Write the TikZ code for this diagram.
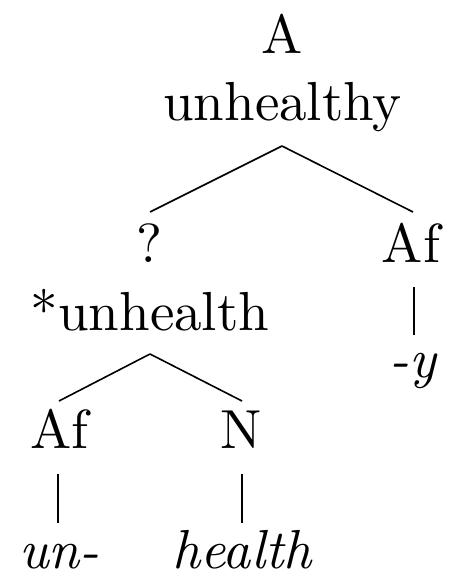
\documentclass[tikz,border=0pt]{standalone}
\newcommand\bigtxt[1]{\scalebox{5.5}{\fontsize{10}{12}\selectfont #1}}
\begin{document}
\begin{tikzpicture}[x=1pt,y=-1pt,
  lbl/.style={anchor=base,inner sep=0pt},
  edge/.style={line width=1.6pt}]
\useasboundingbox (0,0) rectangle (450,578);
\node[lbl] (A) at (282,53) {\bigtxt{A}};
\node[lbl] (unhealthy) at (282.5,120) {\bigtxt{unhealthy}};
\node[lbl] (q) at (149,262) {\bigtxt{?}};
\node[lbl] (afr) at (411,262) {\bigtxt{Af}};
\node[lbl] (unhealth) at (150,330) {\bigtxt{*unhealth}};
\node[lbl] (y) at (414,377) {\bigtxt{\textit{-y}}};
\node[lbl] (afl) at (59.5,448) {\bigtxt{Af}};
\node[lbl] (N) at (241,448) {\bigtxt{N}};
\node[lbl] (un) at (59.5,568) {\bigtxt{\textit{un-}}};
\node[lbl] (health) at (242.5,568) {\bigtxt{\textit{health}}};
\draw[edge] ([xshift=-0.5pt,yshift=-26pt]unhealthy.base) -- ([xshift=1pt,yshift=50pt]q.base);
\draw[edge] ([xshift=-0.5pt,yshift=-26pt]unhealthy.base) -- ([xshift=2pt,yshift=50pt]afr.base);
\draw[edge] ([xshift=3pt,yshift=-25pt]afr.base) -- ([yshift=42pt]y.base);
\draw[edge] ([yshift=-24pt]unhealth.base) -- ([xshift=-0.5pt,yshift=47pt]afl.base);
\draw[edge] ([yshift=-24pt]unhealth.base) -- ([xshift=1pt,yshift=47pt]N.base);
\draw[edge] ([xshift=-1.5pt,yshift=-26pt]afl.base) -- ([xshift=-1.5pt,yshift=45pt]un.base);
\draw[edge] ([xshift=1pt,yshift=-26pt]N.base) -- ([xshift=-0.5pt,yshift=45pt]health.base);
\end{tikzpicture}
\end{document}
